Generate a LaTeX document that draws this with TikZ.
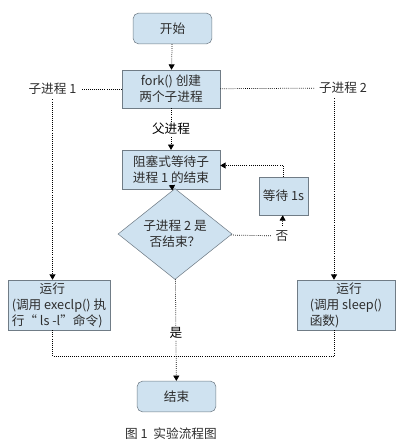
\documentclass[tikz,border=0pt]{standalone}
\usepackage{fontspec}
\setmainfont{Noto Sans CJK SC}
\usetikzlibrary{arrows.meta, shapes.geometric}
\definecolor{boxfill}{RGB}{207,226,240}
\definecolor{boxline}{RGB}{112,124,134}
\definecolor{txt}{RGB}{45,45,45}

\begin{document}
\begin{tikzpicture}[x=0.75pt, y=-0.75pt, font=\fontsize{9.5}{12}\selectfont, text=txt,
    flowbox/.style={draw=boxline, fill=boxfill, align=center, inner sep=1pt},
    termbox/.style={flowbox, rounded corners=4pt, minimum width=59pt, minimum height=23pt},
    decide/.style={draw=boxline, fill=boxfill, diamond, align=center, inner sep=0pt, minimum width=85.5pt, minimum height=45pt},
    link/.style={densely dotted, line width=0.55pt, black},
    arr/.style={link, -{Triangle[length=4pt, width=4.5pt]}}]
  \useasboundingbox (0,0) rectangle (406,445);

  \node[termbox] (start) at (172.5,28.5) {开始};
  \node[flowbox, minimum width=73.5pt, minimum height=28.5pt] (fork) at (171,89) {fork() 创建\\两个子进程};
  \node (c1) at (52.5,89) {子进程 1};
  \node (c2) at (343,88) {子进程 2};
  \node[flowbox, minimum width=73.5pt, minimum height=29pt] (block) at (171,169.5) {阻塞式等待子\\进程 1 的结束};
  \node[decide] (dia) at (175,234) {子进程 2 是\\否结束？};
  \node[flowbox, minimum width=36.75pt, minimum height=28.5pt] (wait) at (283.5,196) {等待 1s};
  \node (no) at (282,236) {否};
  \node[flowbox, align=left, minimum width=76.5pt, minimum height=37.5pt] (run1) at (59,305) {\hspace*{2.2em}运行\\(调用 execlp() 执\\行“ ls -l”命令)};
  \node[flowbox, align=left, minimum width=73.5pt, minimum height=37.5pt] (run2) at (346,305) {\hspace*{2.1em}运行\\(调用 sleep()\\函数)\hspace*{2.6em}};
  \node[termbox] (end) at (176.5,396.5) {结束};
  \node (cap) at (171,434) {图 1\ \ 实验流程图};
  \coordinate (join) at (175,356);
  \coordinate (down2) at ([xshift=-9pt]run2.north);

  \draw[arr] (start) -- (fork);
  \draw[link] (fork) -- (c1);
  \draw[link] (fork) -- (c2);
  \draw[arr] (c1.south) -- (c1.south |- run1.north);
  \draw[arr] (down2 |- c2.south) -- (down2);
  \draw[arr] (fork) -- node[fill=white, inner sep=1pt] {父进程} (block);
  \draw[arr] (block) -- (dia);
  \draw[link] (dia) -- (no);
  \draw[arr] (no) -- (wait);
  \draw[arr] (wait.north) |- ([yshift=3pt]block.east);
  \draw[arr] (dia) -- node[fill=white, inner sep=1pt, pos=0.53] {是} (end);
  \draw[link] (c1.south |- run1.south) |- (join) -| ([xshift=-9pt]run2.south);
\end{tikzpicture}
\end{document}
